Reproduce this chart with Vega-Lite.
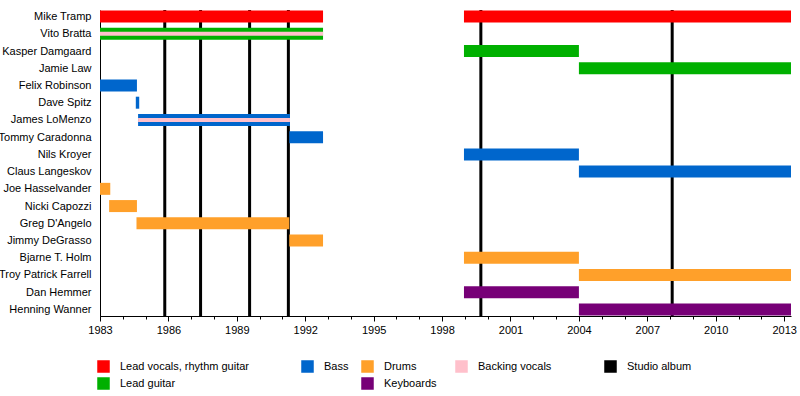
{
  "$schema": "https://vega.github.io/schema/vega-lite/v6.json",
  "autosize": "none",
  "padding": {"left": 100, "top": 10, "right": 9, "bottom": 80},
  "width": 691,
  "height": 306,
  "background": "white",
  "config": {
    "view": {"stroke": null},
    "font": "Liberation Sans",
    "axis": {"labelFont": "Liberation Sans", "labelFontSize": 11, "labelColor": "#000000", "domainColor": "#000000", "tickColor": "#000000", "grid": false, "title": null},
    "axisX": {"labelOverlap": false, "labelFlush": false, "labelBound": false},
    "legend": {"labelFont": "Liberation Sans", "labelFontSize": 11, "labelColor": "#000000"}
  },
  "datasets": {
    "members": [
      {"name": "Mike Tramp", "role": "Lead vocals, rhythm guitar", "start": 1983, "end": 1992.78},
      {"name": "Mike Tramp", "role": "Lead vocals, rhythm guitar", "start": 1998.96, "end": 2013.3},
      {"name": "Vito Bratta", "role": "Lead guitar", "start": 1983, "end": 1992.78},
      {"name": "Kasper Damgaard", "role": "Lead guitar", "start": 1998.96, "end": 2004},
      {"name": "Jamie Law", "role": "Lead guitar", "start": 2004, "end": 2013.3},
      {"name": "Felix Robinson", "role": "Bass", "start": 1983, "end": 1984.62},
      {"name": "Dave Spitz", "role": "Bass", "start": 1984.57, "end": 1984.72},
      {"name": "James LoMenzo", "role": "Bass", "start": 1984.67, "end": 1991.33},
      {"name": "Tommy Caradonna", "role": "Bass", "start": 1991.3, "end": 1992.78},
      {"name": "Nils Kroyer", "role": "Bass", "start": 1998.96, "end": 2004},
      {"name": "Claus Langeskov", "role": "Bass", "start": 2004, "end": 2013.3},
      {"name": "Joe Hasselvander", "role": "Drums", "start": 1983, "end": 1983.45},
      {"name": "Nicki Capozzi", "role": "Drums", "start": 1983.4, "end": 1984.62},
      {"name": "Greg D'Angelo", "role": "Drums", "start": 1984.6, "end": 1991.3},
      {"name": "Jimmy DeGrasso", "role": "Drums", "start": 1991.3, "end": 1992.78},
      {"name": "Bjarne T. Holm", "role": "Drums", "start": 1998.96, "end": 2004},
      {"name": "Troy Patrick Farrell", "role": "Drums", "start": 2004, "end": 2013.3},
      {"name": "Dan Hemmer", "role": "Keyboards", "start": 1998.96, "end": 2004},
      {"name": "Henning Wanner", "role": "Keyboards", "start": 2004, "end": 2013.3}
    ],
    "backing": [
      {"name": "Vito Bratta", "role": "Backing vocals", "start": 1983, "end": 1992.78},
      {"name": "James LoMenzo", "role": "Backing vocals", "start": 1984.67, "end": 1991.33}
    ],
    "albums": [
      {"year": 1985.84, "role": "Studio album"},
      {"year": 1987.41, "role": "Studio album"},
      {"year": 1989.56, "role": "Studio album"},
      {"year": 1991.26, "role": "Studio album"},
      {"year": 1999.7, "role": "Studio album"},
      {"year": 2008.09, "role": "Studio album"}
    ]
  },
  "resolve": {"axis": {"x": "independent"}},
  "layer": [
    {
      "data": {"name": "albums"},
      "mark": {"type": "rule", "strokeWidth": 3},
      "encoding": {
        "x": {
          "field": "year", "type": "quantitative",
          "scale": {"domain": [1983, 2013.3], "nice": false, "zero": false},
          "axis": {
            "orient": "bottom",
            "values": [1983, 1986, 1989, 1992, 1995, 1998, 2001, 2004, 2007, 2010, 2013],
            "format": "d",
            "tickSize": 5,
            "labelPadding": 3
          }
        },
        "color": {
          "field": "role", "type": "nominal",
          "scale": {
            "domain": ["Lead vocals, rhythm guitar", "Bass", "Drums", "Backing vocals", "Studio album", "Lead guitar", " ", "Keyboards"],
            "range": ["#ff0000", "#0066cc", "#ffa02a", "#ffc0cb", "#000000", "#00b000", "#ffffff", "#770077"]
          },
          "legend": {
            "title": null,
            "orient": "none",
            "legendX": -3,
            "legendY": 350,
            "direction": "horizontal",
            "columns": 5,
            "gridAlign": "each",
            "columnPadding": 10,
            "rowPadding": 0,
            "symbolType": "square",
            "symbolSize": 121,
            "labelOffset": 10,
            "labelLimit": 400,
            "padding": 0,
            "labelExpr": "datum.label === 'Lead vocals, rhythm guitar' ? datum.label + '\u00a0\u00a0\u00a0\u00a0\u00a0\u00a0\u00a0\u00a0\u00a0\u00a0\u00a0\u00a0\u00a0\u200b' : datum.label === 'Keyboards' ? datum.label + '\u00a0\u00a0\u200b' : datum.label === 'Backing vocals' ? datum.label + '\u00a0\u00a0\u00a0\u00a0\u00a0\u00a0\u00a0\u00a0\u00a0\u00a0\u00a0\u00a0\u00a0\u200b' : datum.label",
            "encode": {
              "symbols": {"update": {"fill": {"scale": "color", "field": "value"}, "stroke": {"value": "transparent"}, "opacity": {"value": 1}}}
            }
          }
        }
      }
    },
    {
      "data": {"name": "members"},
      "mark": {"type": "bar", "height": 12},
      "encoding": {
        "y": {
          "field": "name", "type": "nominal",
          "scale": {
            "type": "point", "padding": 0.38,
            "domain": ["Mike Tramp", "Vito Bratta", "Kasper Damgaard", "Jamie Law", "Felix Robinson", "Dave Spitz", "James LoMenzo", "Tommy Caradonna", "Nils Kroyer", "Claus Langeskov", "Joe Hasselvander", "Nicki Capozzi", "Greg D'Angelo", "Jimmy DeGrasso", "Bjarne T. Holm", "Troy Patrick Farrell", "Dan Hemmer", "Henning Wanner"]
          },
          "axis": {"ticks": false, "labelPadding": 9, "domain": true}
        },
        "x": {
          "field": "start", "type": "quantitative",
          "axis": {
            "orient": "bottom",
            "values": [1983, 1984, 1985, 1986, 1987, 1988, 1989, 1990, 1991, 1992, 1993, 1994, 1995, 1996, 1997, 1998, 1999, 2000, 2001, 2002, 2003, 2004, 2005, 2006, 2007, 2008, 2009, 2010, 2011, 2012, 2013],
            "labels": false,
            "domain": false,
            "tickSize": 3
          }
        },
        "x2": {"field": "end"},
        "color": {"field": "role", "type": "nominal"}
      }
    },
    {
      "data": {"name": "backing"},
      "mark": {"type": "bar", "height": 4},
      "encoding": {
        "y": {"field": "name", "type": "nominal"},
        "x": {"field": "start", "type": "quantitative", "axis": null},
        "x2": {"field": "end"},
        "color": {"field": "role", "type": "nominal"}
      }
    }
  ]
}
